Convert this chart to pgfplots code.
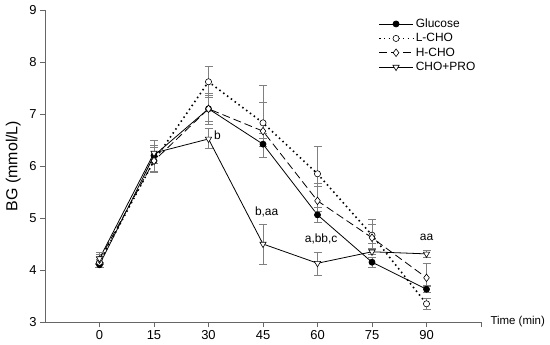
\documentclass[border=0pt]{standalone}
\usepackage{pgfplots}
\pgfplotsset{compat=1.18}
\usepackage{pgfplotstable}
\usepackage{fontspec}
\setmainfont{Liberation Sans}

\pgfplotstableread{
x y ep em
0 4.10 0.05 0.05
15 6.20 0.15 0.15
30 7.10 0.25 0.25
45 6.42 0.20 0.25
60 5.06 0.15 0.15
75 4.15 0.10 0.10
90 3.63 0.06 0.06
}\glucose
\pgfplotstableread{
x y ep em
0 4.15 0.10 0.05
15 6.10 0.30 0.20
30 7.62 0.30 0.30
45 6.83 0.72 0.30
60 5.85 0.52 0.25
75 4.67 0.30 0.15
90 3.35 0.10 0.10
}\lcho
\pgfplotstableread{
x y ep em
0 4.20 0.10 0.10
15 6.10 0.30 0.22
30 7.10 0.30 0.30
45 6.67 0.55 0.30
60 5.33 0.33 0.20
75 4.62 0.25 0.20
90 3.85 0.28 0.15
}\hcho
\pgfplotstableread{
x y ep em
0 4.22 0.12 0.10
15 6.25 0.25 0.20
30 6.52 0.20 0.18
45 4.50 0.38 0.40
60 4.13 0.20 0.24
75 4.35 0.05 0.05
90 4.31 0.06 0.06
}\chopro

\begin{document}
\begin{tikzpicture}
\begin{axis}[
  scale only axis,
  width=436bp, height=312bp,
  xmin=-15, xmax=105, ymin=3, ymax=9,
  axis x line*=bottom, axis y line*=left,
  axis line style={draw=gray!80!black, line width=0.8pt},
  xtick={0,15,30,45,60,75,90},
  extra x ticks={105}, extra x tick labels={},
  ytick={3,4,5,6,7,8,9},
  tick align=outside,
  major tick length=5bp,
  tick style={draw=gray!80!black, line width=0.8pt},
  /pgf/number format/assume math mode=true,
  tick label style={font=\fontsize{13}{15}\selectfont},
  ylabel={BG (mmol/L)},
  ylabel style={at={(axis description cs:-0.073,0.5)}, anchor=center, font=\fontsize{16}{18}\selectfont},
  xlabel={Time (min)},
  xlabel style={at={(axis description cs:1,0)}, anchor=west, xshift=6bp, font=\fontsize{11.5}{13}\selectfont},
  legend style={draw=none, fill=none, at={(0.757,0.985)}, anchor=north west,
    font=\fontsize{12}{14}\selectfont, row sep=0.5pt},
  legend cell align=left,
  legend image code/.code={\draw[mark repeat=2,mark phase=2] plot coordinates {(0cm,0cm)(0.6cm,0cm)(1.2cm,0cm)};},
  error bars/error bar style={draw=gray, solid, line width=0.7pt},
  error bars/error mark options={rotate=90, mark size=4bp, draw=gray, solid, line width=0.7pt},
  clip=false,
]
\addplot[black, line width=0.8pt, mark=*, mark size=3pt, mark options={solid, fill=black},
  error bars/.cd, y dir=both, y explicit]
  table[x=x, y=y, y error plus=ep, y error minus=em] {\glucose};
\addlegendentry{Glucose}
\addplot[black, line width=1.6pt, dash pattern=on 1.5pt off 3.3pt, mark=*, mark size=3.1pt, mark options={solid, fill=white, draw=black, line width=0.6pt},
  error bars/.cd, y dir=both, y explicit]
  table[x=x, y=y, y error plus=ep, y error minus=em] {\lcho};
\addlegendentry{L-CHO}
\addplot[black, line width=0.8pt, dash pattern=on 8pt off 4pt, mark=diamond*, mark size=3.8pt, mark options={solid, fill=white, line width=0.6pt},
  error bars/.cd, y dir=both, y explicit]
  table[x=x, y=y, y error plus=ep, y error minus=em] {\hcho};
\addlegendentry{H-CHO}
\addplot[black, line width=0.8pt, mark=triangle*, mark size=3.6pt, mark options={solid, fill=white, rotate=180, line width=0.6pt},
  error bars/.cd, y dir=both, y explicit]
  table[x=x, y=y, y error plus=ep, y error minus=em] {\chopro};
\addlegendentry{CHO+PRO}

\node[font=\fontsize{12}{14}\selectfont, anchor=west, inner sep=0pt] at (axis cs:31.5,6.6) {b};
\node[font=\fontsize{12}{14}\selectfont, inner sep=0pt] at (axis cs:46,5.12) {b,aa};
\node[font=\fontsize{12}{14}\selectfont, inner sep=0pt] at (axis cs:61,4.6) {a,bb,c};
\node[font=\fontsize{12}{14}\selectfont, inner sep=0pt] at (axis cs:90,4.63) {aa};
\end{axis}
\pgfresetboundingbox
\path[use as bounding box] (current axis.south west) ++(-45bp,-23bp) rectangle ++(550bp,345bp);
\end{tikzpicture}
\end{document}
